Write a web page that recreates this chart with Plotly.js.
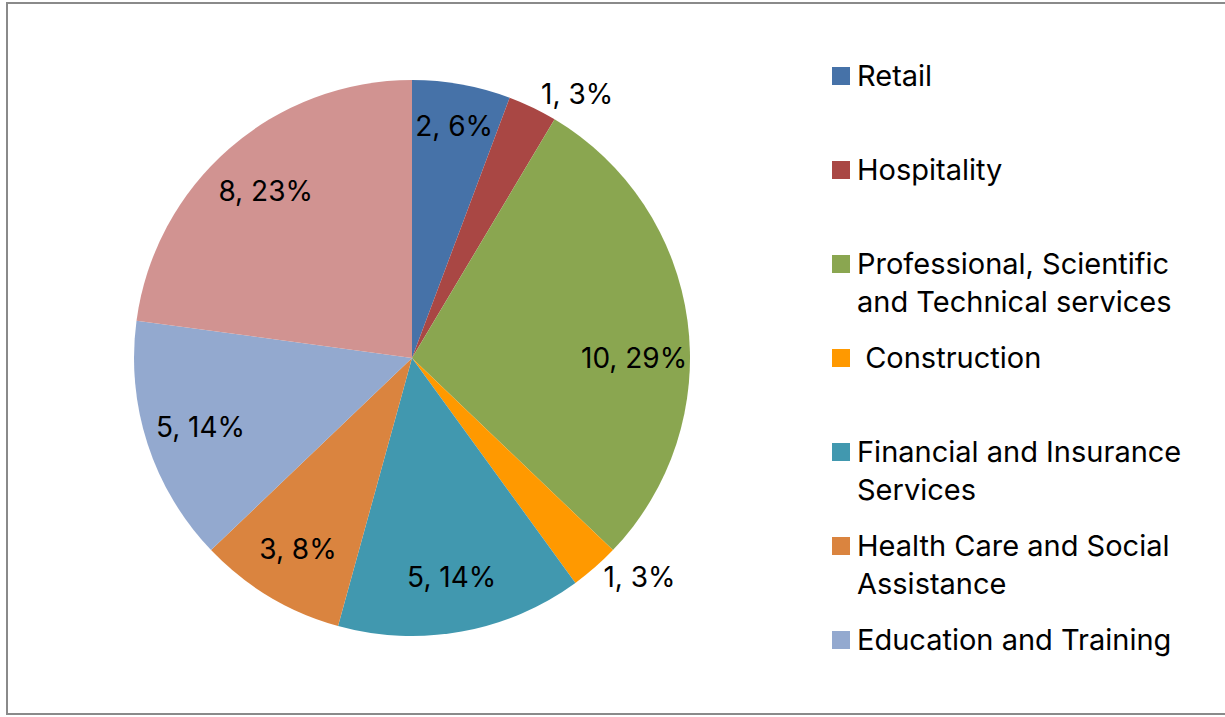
<!DOCTYPE html>
<html>
<head>
<meta charset="utf-8">
<script src="https://cdn.plot.ly/plotly-3.0.1.min.js"></script>
<style>
html,body{margin:0;padding:0;background:#fff;}
#chart{width:1225px;height:717px;}
</style>
</head>
<body>
<div id="chart"></div>
<script>
// ---- data ----
var categories = ["Retail", "Hospitality", "Professional, Scientific and Technical services", " Construction", "Financial and Insurance Services", "Health Care and Social Assistance", "Education and Training", "Other"];
var legendLabels = ["Retail", "Hospitality", "Professional, Scientific<br>and Technical services", " Construction", "Financial and Insurance<br>Services", "Health Care and Social<br>Assistance", "Education and Training", "Other"];
var values = [2, 1, 10, 1, 5, 3, 5, 8];
var percentLabels = ["6%", "3%", "29%", "3%", "14%", "8%", "14%", "23%"];
var colors = ["#4672A8", "#A94744", "#8AA650", "#FF9900", "#4198AF", "#DA843F", "#93A9CF", "#D19391"];
var textPositions = ["inside", "outside", "inside", "outside", "inside", "inside", "inside", "inside"];

var W = 1225, H = 717;
function px(x){ return x / W; }
function py(y){ return (H - y) / H; }

var FONT = "Inter, 'Open Sans', sans-serif";
var fs = 28;      // data labels
var lfs = 29;     // legend text
var domain = {x: [px(134), px(690)], y: [py(636), py(80)]};

// the coloured pie
var pieTrace = {
  type: "pie",
  labels: categories,
  values: values,
  textinfo: "none",
  sort: false,
  direction: "clockwise",
  rotation: 0,
  marker: {colors: colors, line: {width: 0}},
  hoverinfo: "skip",
  showlegend: false,
  domain: domain
};

// transparent ring on top carrying the data labels (keeps them in the outer part of each slice)
var labelTrace = {
  type: "pie",
  labels: categories,
  values: values,
  text: percentLabels,
  texttemplate: "%{value}, %{text}",
  textposition: textPositions,
  insidetextorientation: "horizontal",
  hole: 0.6,
  sort: false,
  direction: "clockwise",
  rotation: 0,
  marker: {colors: colors.map(function(){ return "rgba(0,0,0,0)"; }), line: {width: 0}},
  textfont: {family: FONT, size: fs, color: "#000"},
  insidetextfont: {family: FONT, size: fs, color: "#000"},
  outsidetextfont: {family: FONT, size: fs, color: "#000"},
  hoverinfo: "skip",
  showlegend: false,
  domain: domain
};

// custom legend (only the first seven entries are visible in the reference)
var annotations = [];
var shapes = [];
var nVisible = 7;
var lineH = lfs * 1.3;
for (var i = 0; i < nVisible; i++) {
  var cy = 76 + 94 * i;
  shapes.push({
    type: "rect", xref: "paper", yref: "paper",
    x0: px(832), x1: px(850), y0: py(cy + 9), y1: py(cy - 9),
    fillcolor: colors[i], line: {width: 0}
  });
  annotations.push({
    xref: "paper", yref: "paper",
    x: px(855), y: py(cy - lineH / 2 - 1),
    xanchor: "left", yanchor: "top", align: "left",
    text: legendLabels[i], showarrow: false,
    font: {family: FONT, size: lfs, color: "#000"}
  });
}
// outer border
shapes.push({
  type: "rect", xref: "paper", yref: "paper",
  x0: px(7), x1: px(1240), y0: py(714), y1: py(3),
  line: {color: "#8a8a8a", width: 2}, fillcolor: "rgba(0,0,0,0)"
});

var layout = {
  width: W, height: H,
  margin: {l: 0, r: 0, t: 0, b: 0},
  paper_bgcolor: "#fff",
  showlegend: false,
  uniformtext: {minsize: fs, mode: "show"},
  annotations: annotations,
  shapes: shapes,
  font: {family: FONT}
};

Plotly.newPlot("chart", [pieTrace, labelTrace], layout, {displayModeBar: false, staticPlot: true});
</script>
</body>
</html>
